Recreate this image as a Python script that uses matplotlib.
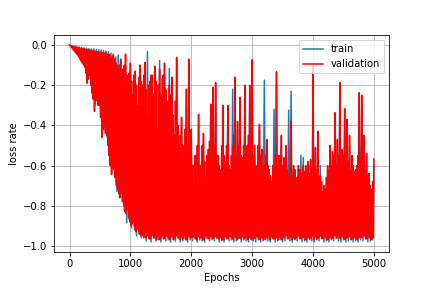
import numpy as np
import matplotlib
matplotlib.use("Agg")
import matplotlib.pyplot as plt

# validation sampled every 10 epochs: peak (0,40,..), trough (10,50,..),
# body peak (20,60,..), trough (30,70,..)
val_epochs = np.arange(0, 5001, 10)
# train sampled every 20 epochs: peak (0,40,..), trough (20,60,..)
train_epochs = np.arange(0, 5001, 20)

val_peaks = [
    0.0, -0.005, -0.008, -0.012, -0.015, -0.018, -0.02, -0.022, -0.025, -0.027,
    -0.03, -0.032, -0.035, -0.036, -0.04, -0.038, -0.045, -0.06, -0.05, -0.09,
    -0.12, -0.07, -0.16, -0.045, -0.22, -0.09, -0.25, -0.13, -0.3, -0.1,
    -0.2, -0.087, -0.35, -0.18, -0.15, -0.105, -0.42, -0.12, -0.3, -0.09,
    -0.28, -0.2, -0.16, -0.45, -0.062, -0.5, -0.36, -0.6, -0.22, -0.07,
    -0.42, -0.7, -0.55, -0.345, -0.6, -0.44, -0.66, -0.52, -0.295, -0.21,
    -0.187, -0.55, -0.62, -0.3, -0.58, -0.3, -0.62, -0.5, -0.16, -0.38,
    -0.26, -0.56, -0.2, -0.5, -0.2, -0.073, -0.5, -0.68, -0.395, -0.52,
    -0.6, -0.47, -0.62, -0.68, -0.7, -0.133, -0.55, -0.45, -0.56, -0.5,
    -0.66, -0.38, -0.6, -0.68, -0.6, -0.64, -0.6, -0.6, -0.58, -0.57,
    -0.1, -0.51, -0.43, -0.65, -0.73, -0.72, -0.6, -0.5, -0.53, -0.337,
    -0.47, -0.187, -0.52, -0.317, -0.37, -0.45, -0.55, -0.63, -0.6, -0.237,
    -0.25, -0.45, -0.54, -0.64, -0.72, -0.567,
]
val_troughs = [
    -0.005, -0.02, -0.035, -0.05, -0.07, -0.09, -0.11, -0.19, -0.15, -0.24,
    -0.33, -0.26, -0.3, -0.46, -0.4, -0.45, -0.55, -0.645, -0.6, -0.7,
    -0.74, -0.72, -0.8, -0.84, -0.86, -0.9, -0.88, -0.93, -0.92, -0.95,
    -0.94, -0.96, -0.95, -0.965, -0.94, -0.96, -0.95, -0.97, -0.95, -0.96,
    -0.955, -0.97, -0.95, -0.96, -0.945, -0.97, -0.96, -0.95, -0.97, -0.955,
    -0.96, -0.95, -0.97, -0.955, -0.96, -0.97, -0.95, -0.965, -0.955, -0.96,
    -0.95, -0.965, -0.96, -0.97, -0.95, -0.96, -0.955, -0.97, -0.96, -0.95,
    -0.965, -0.955, -0.96, -0.97, -0.95, -0.96, -0.965, -0.955, -0.97, -0.96,
    -0.955, -0.96, -0.97, -0.95, -0.965, -0.96, -0.955, -0.97, -0.96, -0.95,
    -0.96, -0.97, -0.955, -0.96, -0.95, -0.965, -0.96, -0.97, -0.955, -0.96,
    -0.97, -0.955, -0.96, -0.95, -0.965, -0.96, -0.97, -0.955, -0.96, -0.95,
    -0.96, -0.965, -0.955, -0.97, -0.96, -0.95, -0.965, -0.96, -0.97, -0.955,
    -0.96, -0.95, -0.965, -0.96, -0.955,
]
val_body = [
    -0.003, -0.007, -0.01, -0.013, -0.016, -0.019, -0.021, -0.024, -0.026, -0.028,
    -0.031, -0.034, -0.035, -0.038, -0.04, -0.045, -0.05, -0.06, -0.07, -0.1,
    -0.1, -0.12, -0.1, -0.15, -0.14, -0.18, -0.15, -0.2, -0.16, -0.18,
    -0.15, -0.22, -0.2, -0.15, -0.25, -0.18, -0.2, -0.25, -0.15, -0.22,
    -0.3, -0.25, -0.35, -0.28, -0.4, -0.45, -0.5, -0.42, -0.5, -0.55,
    -0.6, -0.55, -0.5, -0.6, -0.5, -0.58, -0.55, -0.48, -0.4, -0.5,
    -0.55, -0.6, -0.5, -0.55, -0.5, -0.6, -0.55, -0.45, -0.55, -0.5,
    -0.55, -0.5, -0.55, -0.45, -0.5, -0.55, -0.6, -0.5, -0.55, -0.6,
    -0.55, -0.6, -0.65, -0.6, -0.55, -0.6, -0.55, -0.6, -0.6, -0.62,
    -0.6, -0.65, -0.62, -0.66, -0.62, -0.65, -0.63, -0.66, -0.64, -0.62,
    -0.6, -0.62, -0.66, -0.68, -0.7, -0.66, -0.62, -0.6, -0.55, -0.6,
    -0.55, -0.6, -0.55, -0.6, -0.58, -0.62, -0.6, -0.62, -0.55, -0.58,
    -0.6, -0.62, -0.65, -0.7, -0.68,
]
val_troughs2 = [
    -0.01, -0.028, -0.042, -0.06, -0.08, -0.1, -0.14, -0.17, -0.2, -0.27,
    -0.28, -0.3, -0.36, -0.42, -0.44, -0.5, -0.6, -0.62, -0.66, -0.72,
    -0.76, -0.78, -0.83, -0.82, -0.88, -0.89, -0.92, -0.91, -0.94, -0.95,
    -0.955, -0.945, -0.965, -0.95, -0.96, -0.97, -0.955, -0.96, -0.965, -0.95,
    -0.96, -0.955, -0.97, -0.95, -0.96, -0.955, -0.965, -0.97, -0.95, -0.96,
    -0.955, -0.965, -0.95, -0.96, -0.97, -0.955, -0.96, -0.95, -0.965, -0.955,
    -0.96, -0.95, -0.97, -0.955, -0.965, -0.95, -0.96, -0.955, -0.97, -0.96,
    -0.95, -0.965, -0.955, -0.96, -0.97, -0.95, -0.955, -0.965, -0.96, -0.97,
    -0.96, -0.95, -0.955, -0.965, -0.95, -0.97, -0.96, -0.955, -0.95, -0.965,
    -0.955, -0.96, -0.965, -0.95, -0.96, -0.955, -0.97, -0.96, -0.965, -0.95,
    -0.955, -0.965, -0.95, -0.96, -0.955, -0.97, -0.96, -0.965, -0.95, -0.96,
    -0.955, -0.95, -0.965, -0.96, -0.955, -0.97, -0.95, -0.965, -0.96, -0.955,
    -0.95, -0.965, -0.955, -0.97, -0.96,
]

train_peaks = [
    0.0, -0.003, -0.006, -0.008, -0.01, -0.012, -0.014, -0.016, -0.018, -0.02,
    -0.02, -0.022, -0.024, -0.025, -0.027, -0.03, -0.033, -0.04, -0.045, -0.06,
    -0.05, -0.075, -0.12, -0.1, -0.2, -0.12, -0.28, -0.15, -0.32, -0.14,
    -0.25, -0.12, -0.033, -0.2, -0.18, -0.2, -0.45, -0.078, -0.167, -0.15,
    -0.3, -0.117, -0.2, -0.47, -0.062, -0.52, -0.4, -0.62, -0.3, -0.12,
    -0.45, -0.6, -0.58, -0.4, -0.62, -0.5, -0.68, -0.55, -0.35, -0.3,
    -0.25, -0.58, -0.64, -0.35, -0.6, -0.35, -0.64, -0.22, -0.2, -0.42,
    -0.3, -0.58, -0.25, -0.55, -0.25, -0.1, -0.55, -0.7, -0.42, -0.55,
    -0.175, -0.5, -0.64, -0.7, -0.32, -0.2, -0.58, -0.5, -0.6, -0.55,
    -0.325, -0.23, -0.62, -0.7, -0.62, -0.55, -0.56, -0.62, -0.6, -0.6,
    -0.15, -0.55, -0.62, -0.6, -0.75, -0.74, -0.62, -0.55, -0.56, -0.38,
    -0.5, -0.25, -0.55, -0.36, -0.4, -0.5, -0.58, -0.66, -0.62, -0.3,
    -0.3, -0.5, -0.58, -0.66, -0.74, -0.6,
]
train_troughs = [
    -0.004, -0.018, -0.03, -0.045, -0.065, -0.085, -0.1, -0.17, -0.14, -0.22,
    -0.3, -0.25, -0.29, -0.43, -0.42, -0.46, -0.58, -0.63, -0.62, -0.73,
    -0.76, -0.74, -0.82, -0.885, -0.87, -0.91, -0.9, -0.95, -0.94, -0.96,
    -0.96, -0.975, -0.965, -0.98, -0.96, -0.975, -0.97, -0.98, -0.965, -0.975,
    -0.97, -0.98, -0.965, -0.975, -0.96, -0.98, -0.975, -0.965, -0.98, -0.97,
    -0.975, -0.965, -0.98, -0.97, -0.975, -0.98, -0.965, -0.975, -0.97, -0.975,
    -0.965, -0.98, -0.975, -0.98, -0.965, -0.975, -0.97, -0.98, -0.975, -0.965,
    -0.98, -0.97, -0.975, -0.98, -0.965, -0.975, -0.98, -0.97, -0.98, -0.975,
    -0.97, -0.975, -0.98, -0.965, -0.98, -0.975, -0.97, -0.98, -0.975, -0.965,
    -0.975, -0.98, -0.97, -0.975, -0.965, -0.98, -0.975, -0.98, -0.97, -0.975,
    -0.98, -0.97, -0.975, -0.965, -0.98, -0.975, -0.98, -0.97, -0.975, -0.965,
    -0.975, -0.98, -0.97, -0.98, -0.975, -0.965, -0.98, -0.975, -0.98, -0.97,
    -0.975, -0.965, -0.98, -0.975, -0.97,
]

# assemble series from the read-off lists
train = np.empty(len(train_epochs))
train[0::2] = train_peaks
train[1::2] = train_troughs

validation = np.empty(len(val_epochs))
validation[0::4] = val_peaks
validation[1::4] = val_troughs
validation[2::4] = val_body
validation[3::4] = val_troughs2

fig = plt.figure(figsize=(6, 4), dpi=72)
ax = fig.add_axes([0.1257, 0.126, 0.775, 0.752])
ax.plot(train_epochs, train, color="#1f77b4", lw=1.5, label="train")
ax.plot(val_epochs, validation, color="red", lw=1.5, label="validation")
ax.set_xlabel("Epochs")
ax.set_ylabel("loss rate")
ax.grid(True)
ax.legend(loc="upper right")
fig.savefig("out.png", dpi=72)
